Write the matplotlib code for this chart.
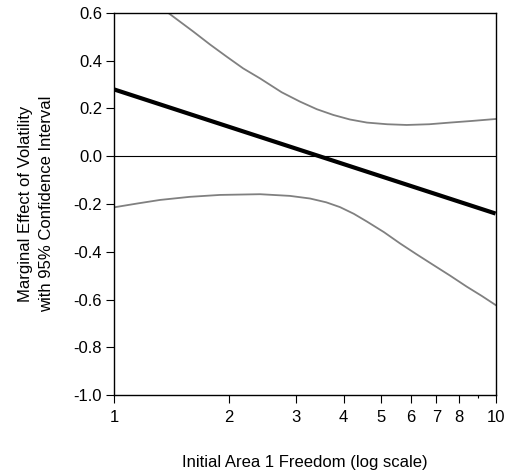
import matplotlib
matplotlib.use("Agg")
import matplotlib.pyplot as plt
from matplotlib.ticker import FixedLocator, NullFormatter

plt.rcParams['font.family'] = ['Liberation Sans', 'DejaVu Sans']

# Marginal effect (straight line in log space)
center_x = [1.0, 10.0]
center_y = [0.28, -0.24]

# Upper 95% bound
upper_x = [1.0, 1.2, 1.388, 1.614, 1.785, 1.974, 2.18, 2.414, 2.75, 3.07, 3.4, 3.755, 4.15, 4.6, 5.2, 5.85, 6.7, 7.6, 8.7, 10.0]
upper_y = [0.78, 0.685, 0.60, 0.522, 0.468, 0.417, 0.368, 0.326, 0.268, 0.229, 0.197, 0.173, 0.154, 0.141, 0.134, 0.131, 0.134, 0.141, 0.148, 0.156]

# Lower 95% bound
lower_x = [1.0, 1.15, 1.32, 1.58, 1.896, 2.414, 2.89, 3.263, 3.6, 3.91, 4.25, 4.595, 5.1, 5.617, 6.2, 6.87, 7.6, 8.4, 9.2, 10.0]
lower_y = [-0.214, -0.198, -0.183, -0.170, -0.162, -0.159, -0.166, -0.177, -0.193, -0.213, -0.241, -0.273, -0.318, -0.365, -0.41, -0.4555, -0.50, -0.546, -0.585, -0.623]

xticks = [1, 2, 3, 4, 5, 6, 7, 8, 10]
xticklabels = ["1", "2", "3", "4", "5", "6", "7", "8", "10"]
yticks = [0.6, 0.4, 0.2, 0.0, -0.2, -0.4, -0.6, -0.8, -1.0]

fig = plt.figure(figsize=(5.06, 4.72), dpi=100)
ax = fig.add_axes([0.2253, 0.1631, 0.9794 - 0.2253, 0.9725 - 0.1631])

ax.axhline(0, color='black', lw=0.8, zorder=1)
ax.plot(upper_x, upper_y, color='#808080', lw=1.3, zorder=2)
ax.plot(lower_x, lower_y, color='#808080', lw=1.3, zorder=2)
ax.plot(center_x, center_y, color='black', lw=3.0, zorder=3, solid_capstyle='butt')

ax.set_xscale('log')
ax.set_xlim(1, 10)
ax.set_ylim(-1.0, 0.6)
ax.xaxis.set_major_locator(FixedLocator(xticks))
ax.set_xticklabels(xticklabels)
ax.xaxis.set_minor_locator(FixedLocator([9]))
ax.xaxis.set_minor_formatter(NullFormatter())
ax.set_yticks(yticks)
ax.set_yticklabels([f"{v:.1f}" for v in yticks])

ax.tick_params(axis='both', which='major', direction='out', length=5.5, width=0.8, labelsize=12, pad=3)
ax.tick_params(axis='x', which='minor', direction='out', length=2.5, width=0.8)
ax.tick_params(axis='x', which='major', pad=5)

for s in ax.spines.values():
    s.set_linewidth(1.0)
    s.set_color('black')

ax.set_xlabel("Initial Area 1 Freedom (log scale)", fontsize=12, labelpad=22)
ax.set_ylabel("Marginal Effect of Volatility\nwith 95% Confidence Interval", fontsize=12,
              labelpad=14, linespacing=1.5)

fig.savefig("out.png", dpi=100)
